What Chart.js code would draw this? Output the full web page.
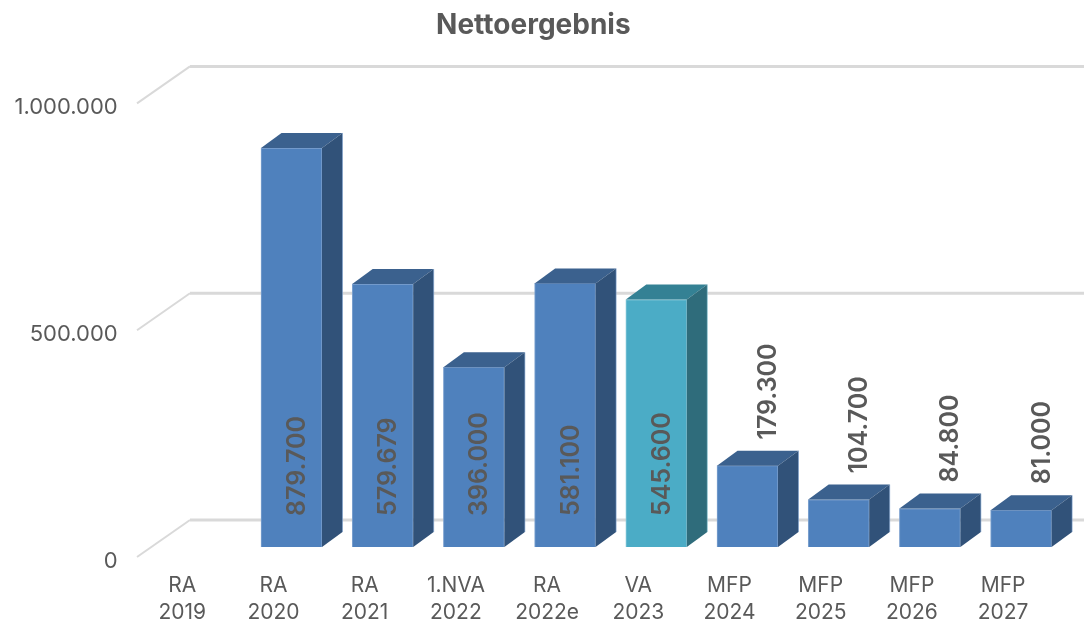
<!DOCTYPE html>
<html><head><meta charset="utf-8">
<style>html,body{margin:0;padding:0;background:#fff}#w{width:1084px;height:620px;position:relative}</style>
<script src="https://cdn.jsdelivr.net/npm/chart.js@4/dist/chart.umd.js"></script>
</head><body><div id="w"><canvas id="c"></canvas></div>
<script>
const categories = [["RA","2019"],["RA","2020"],["RA","2021"],["1.NVA","2022"],["RA","2022e"],["VA","2023"],["MFP","2024"],["MFP","2025"],["MFP","2026"],["MFP","2027"]];
const values = [null,879700,579679,396000,581100,545600,179300,104700,84800,81000];
const highlightIndex = 5;
const chartTitle = "Nettoergebnis";
const BLUE = {front:"#4F81BD",side:"#315279",top:"#3B618E",edge:"#7FA3D0"};
const TEAL = {front:"#4BACC6",side:"#2F6C7B",top:"#348194",edge:"#8CCBDB"};
const TEXT = "#595959", GRID = "#D9D9D9", FONT = "Inter, 'Open Sans', sans-serif";
const DX = 20.5, DY = 15;
const fmt = v => String(Math.round(v)).replace(/\B(?=(\d{3})+(?!\d))/g, ".");
const pal = i => i === highlightIndex ? TEAL : BLUE;

const depth = {
  id: "depth",
  beforeDatasetsDraw(ch) {
    const {ctx, chartArea:a, scales:{y}} = ch;
    ctx.save(); ctx.strokeStyle = GRID; ctx.lineJoin = "miter";
    y.ticks.forEach(t => {
      const p = y.getPixelForValue(t.value);
      ctx.lineWidth = 2;
      ctx.beginPath(); ctx.moveTo(a.left - 17.7, p + 10); ctx.lineTo(a.left + 35.3, p - 27); ctx.stroke();
      ctx.lineWidth = 3;
      ctx.beginPath(); ctx.moveTo(a.left + 35.3, p - 27); ctx.lineTo(ch.width, p - 27); ctx.stroke();
    });
    ctx.restore();
  },
  afterDatasetsDraw(ch) {
    const {ctx} = ch;
    ctx.save();
    ch.getDatasetMeta(0).data.forEach((b, i) => {
      if (values[i] == null) return;
      const c = pal(i), l = b.x - b.width/2, r = b.x + b.width/2, t = b.y, bt = b.base;
      ctx.strokeStyle = c.edge; ctx.lineWidth = .6;
      ctx.fillStyle = c.top;
      ctx.beginPath(); ctx.moveTo(l,t); ctx.lineTo(l+DX,t-DY); ctx.lineTo(r+DX,t-DY); ctx.lineTo(r,t); ctx.closePath(); ctx.fill();
      ctx.fillStyle = c.side;
      ctx.beginPath(); ctx.moveTo(r,t); ctx.lineTo(r+DX,t-DY); ctx.lineTo(r+DX,bt-DY); ctx.lineTo(r,bt); ctx.closePath(); ctx.fill();
      ctx.beginPath(); ctx.moveTo(r+DX,t-DY); ctx.lineTo(r+DX,bt-DY); ctx.stroke();
    });
    ctx.font = "600 25px " + FONT; ctx.fillStyle = TEXT;
    ctx.textBaseline = "middle"; ctx.textAlign = "left";
    ch.getDatasetMeta(0).data.forEach((b, i) => {
      if (values[i] == null) return;
      const inside = b.base - b.y > 120;
      ctx.save();
      if (inside) ctx.translate(b.x + 6, b.base - 31);
      else ctx.translate(b.x + 21, b.y - DY - 11);
      ctx.rotate(-Math.PI/2);
      ctx.fillText(fmt(values[i]), 0, 0);
      ctx.restore();
    });
    ctx.restore();
  }
};

new Chart(document.getElementById("c"), {
  type: "bar",
  data: { labels: categories, datasets: [{
    data: values,
    backgroundColor: values.map((_, i) => pal(i).front),
    borderColor: values.map((_, i) => pal(i).edge),
    borderWidth: 1,
    barThickness: 61
  }]},
  plugins: [depth],
  options: {
    responsive: true, maintainAspectRatio: false, animation: false,
    layout: { padding: { left: 0, right: 17.3, top: 0, bottom: 0 } },
    plugins: {
      legend: { display: false }, tooltip: { enabled: false },
      title: { display: true, text: chartTitle, color: TEXT,
        font: { family: FONT, size: 28, weight: "700" }, padding: { top: 9, bottom: 50.8 } }
    },
    scales: {
      x: {
        grid: { display: false, drawTicks: false }, border: { display: false },
        afterFit(s) { s.height = 73; },
        ticks: { color: TEXT, font: { family: FONT, size: 21, lineHeight: 1.29 },
          labelOffset: -18, padding: 25, maxRotation: 0, minRotation: 0, autoSkip: false }
      },
      y: {
        min: 0, max: 1000000,
        grid: { display: false, drawTicks: false }, border: { display: false },
        afterFit(s) { s.width = 154.7; },
        ticks: { color: TEXT, stepSize: 500000, font: { family: FONT, size: 22 },
          labelOffset: 14, padding: 37, callback: v => fmt(v) }
      }
    }
  }
});
</script></body></html>
